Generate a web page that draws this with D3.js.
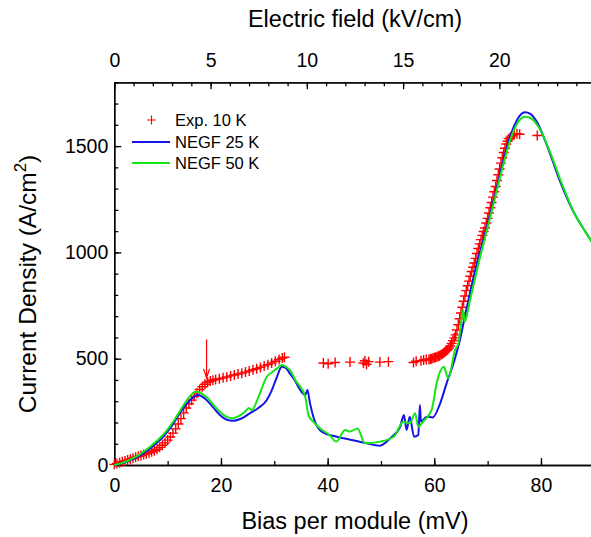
<!DOCTYPE html>
<html>
<head>
<meta charset="utf-8">
<script src="https://cdn.jsdelivr.net/npm/d3@7"></script>
<style>
  body { margin: 0; background: #fff; }
  text { font-family: "Liberation Sans", Arial, sans-serif; fill: #000; }
  .axis path, .axis line { stroke: #000; stroke-width: 1.3; }
</style>
</head>
<body>
<script>
// experimental points, Exp. 10 K
var expBias = [0.0, 0.5, 1.0, 1.5, 2.0, 2.5, 3.0, 3.5, 4.0, 4.5, 5.0, 5.5, 6.0, 6.5, 7.0, 7.5, 8.0, 8.5, 9.0, 9.5,
  10.0, 10.5, 11.0, 11.5, 12.0, 12.5, 13.0, 13.5, 14.0, 14.5, 15.0, 15.5, 16.0, 16.5, 17.0, 17.5, 18.0, 18.5, 19.0,
  19.7, 20.4, 21.1, 21.8, 22.5, 23.2, 23.9, 24.6, 25.3, 26.0, 26.7, 27.4, 28.1, 28.8, 29.5, 30.2, 30.9, 31.5, 31.9,
  39.2, 40.1, 41.4, 44.2, 46.7, 47.0, 47.3, 47.7, 49.8, 51.4, 56.1, 56.6, 57.5, 58.0, 58.5,
  59.0, 59.25, 59.5, 59.75, 60.0, 60.25, 60.5, 60.75, 61.0, 61.25, 61.5, 61.75, 62.0, 62.25, 62.5, 62.75,
  63.0, 63.25, 63.5, 63.75, 64.0, 64.25, 64.5, 64.75, 65.0, 65.25, 65.5, 65.75, 66.0, 66.25, 66.5, 66.75,
  67.0, 67.25, 67.5, 67.75, 68.0, 68.25, 68.5, 68.75, 69.0, 69.25, 69.5, 69.75, 70.0, 70.25, 70.5, 70.75,
  71.0, 71.25, 71.5, 71.75, 72.0, 72.25, 72.5, 72.75, 73.0, 73.25, 73.5, 73.75, 74.0, 74.25, 74.5, 74.75,
  75.0, 75.5, 76.0, 79.3];
var expCurrent = [3, 7, 11, 15, 19, 23, 27, 32, 37, 41, 45, 49, 53, 57, 62, 67, 74, 83, 93, 104,
  117, 132, 150, 170, 193, 218, 245, 268, 288, 305, 322, 338, 355, 368, 380, 389, 395, 399, 402,
  406, 410, 414, 419, 423, 428, 432, 437, 442, 448, 453, 459, 466, 472, 480, 488, 496, 503, 507,
  480, 476, 482, 484, 480, 490, 474, 486, 484, 486, 482, 488, 490, 494, 496,
  496, 498, 500, 503, 505, 507, 509, 511, 514, 518, 522, 527, 532, 537, 542, 550,
  560, 572, 585, 598, 612, 635, 660, 688, 715, 742, 770, 795, 820, 843, 865, 888,
  910, 930, 950, 972, 995, 1018, 1040, 1060, 1080, 1098, 1115, 1138, 1160, 1185, 1210, 1235,
  1260, 1285, 1310, 1338, 1365, 1392, 1420, 1445, 1470, 1490, 1510, 1523, 1535, 1542, 1548, 1552,
  1555, 1558, 1556, 1550];

// NEGF 25 K
var negf25Bias = [0, 2, 4, 5, 6, 7, 8, 9, 10, 11, 12, 13, 14, 15, 15.6, 16.5, 17.3, 18.5, 19.8, 21, 22.3, 23.5,
  25.4, 27, 28.6, 29.5, 30.4, 31.4, 32.2, 32.9, 34, 34.8, 35.8, 36.2, 36.7, 37.6, 38.9, 41.7, 44.5, 47.3, 49.8,
  51.7, 53.6, 54.3, 54.8, 55.4, 56.2, 57.0, 57.3, 57.5, 58.6, 59.7, 61.1, 62.3, 63.6, 64.8, 66, 67.9, 69.8,
  71.4, 72.9, 74.8, 76, 77, 78, 79.2, 81.1, 83.6, 86.1, 88, 90];
var negf25Current = [0, 12, 33, 48, 65, 84, 105, 128, 158, 192, 232, 270, 300, 322, 329, 322, 306, 272, 235, 214, 208, 215,
  243, 268, 306, 350, 408, 462, 455, 431, 392, 355, 329, 353, 290, 205, 157, 133, 118, 102, 91,
  125, 180, 235, 165, 227, 133, 141, 282, 204, 227, 224, 290, 384, 478, 588, 730, 941, 1113,
  1270, 1427, 1584, 1642, 1659, 1652, 1615, 1505, 1333, 1191, 1110, 1035];

// NEGF 50 K
var negf50Bias = [0, 2, 4, 5, 6, 7, 8, 9, 10, 11, 12, 13, 14, 15.3, 16.5, 17.5, 18.5, 19.8, 21, 22.3, 23.5, 24.5,
  25.2, 25.8, 27, 28.6, 29.5, 30.4, 31.4, 32.2, 32.9, 34, 35.8, 36.4, 37.3, 38.6, 40.4, 41.6, 43.3, 44.2, 45.6,
  47, 49.8, 52.4, 54.2, 55.4, 56.4, 57, 57.9, 59.5, 60.5, 61.8, 62.6, 63.9, 64.5, 65.1, 65.4, 65.7, 66.7, 68.9,
  70, 71.4, 72.9, 74.8, 76, 77, 78, 79.5, 81.5, 84, 86.5, 88.5, 90];
var negf50Current = [0, 14, 38, 54, 72, 92, 114, 138, 168, 202, 242, 282, 318, 345, 335, 315, 285, 251, 228, 220, 232, 250,
  268, 258, 318, 415, 435, 452, 470, 462, 447, 398, 321, 235, 204, 172, 140, 110, 165, 157, 172,
  102, 110, 133, 204, 196, 243, 180, 204, 259, 392, 462, 408, 541, 572, 682, 729, 674, 776, 1011,
  1118, 1258, 1410, 1568, 1622, 1638, 1632, 1592, 1485, 1318, 1172, 1090, 1030];

var biasTicks = [0, 20, 40, 60, 80];
var fieldTicks = [0, 5, 10, 15, 20];
var currentTicks = [0, 500, 1000, 1500];
var legendLabels = ["Exp. 10 K", "NEGF 25 K", "NEGF 50 K"];
var moduleLength = 36.1; // nm, mV per kV/cm = moduleLength/10

var width = 591, height = 537;
var margin = {left: 114.3, right: 594.3, top: 82.3, bottom: 465};

var svg = d3.select("body").append("svg")
    .attr("width", width)
    .attr("height", height);

svg.append("rect").attr("width", width).attr("height", height).attr("fill", "#fff");

var x = d3.scaleLinear().domain([0, 90]).range([margin.left, margin.right]);
var xField = d3.scaleLinear().domain([0, 90 / (moduleLength / 10)]).range([margin.left, margin.right]);
var y = d3.scaleLinear().domain([0, 1800]).range([margin.bottom, margin.top]);

// minor ticks first
svg.append("g").attr("class", "axis")
    .attr("transform", "translate(0," + margin.bottom + ")")
    .call(d3.axisBottom(x).tickValues(d3.range(0, 91, 10)).tickSize(-4).tickSizeOuter(0).tickFormat(""));
svg.append("g").attr("class", "axis")
    .attr("transform", "translate(0," + margin.top + ")")
    .call(d3.axisTop(xField).tickValues(d3.range(0, 25, 1)).tickSize(-4).tickSizeOuter(0).tickFormat(""));
svg.append("g").attr("class", "axis")
    .attr("transform", "translate(" + margin.left + ",0)")
    .call(d3.axisLeft(y).tickValues(d3.range(0, 1801, 100)).tickSize(-4).tickSizeOuter(0).tickFormat(""));

svg.append("g").attr("class", "axis")
    .attr("transform", "translate(0," + margin.bottom + ")")
    .call(d3.axisBottom(x).tickValues(biasTicks).tickSize(-7).tickSizeOuter(0).tickPadding(13));
svg.append("g").attr("class", "axis")
    .attr("transform", "translate(0," + margin.top + ")")
    .call(d3.axisTop(xField).tickValues(fieldTicks).tickSize(-7).tickSizeOuter(0).tickPadding(15));
svg.append("g").attr("class", "axis")
    .attr("transform", "translate(" + margin.left + ",0)")
    .call(d3.axisLeft(y).tickValues(currentTicks).tickSize(-7).tickSizeOuter(0).tickPadding(6)
      .tickFormat(d3.format("d")));

svg.selectAll(".axis text")
    .style("font-family", "'Liberation Sans', Arial, sans-serif")
    .style("font-size", "19.5px");

// axis titles
svg.append("text")
    .attr("x", 355).attr("y", 529)
    .attr("text-anchor", "middle")
    .style("font-size", "23.5px")
    .text("Bias per module (mV)");

svg.append("text")
    .attr("x", 355).attr("y", 27)
    .attr("text-anchor", "middle")
    .style("font-size", "23.5px")
    .text("Electric field (kV/cm)");

var yTitle = svg.append("text")
    .attr("transform", "translate(36,284) rotate(-90)")
    .attr("text-anchor", "middle")
    .style("font-size", "24.5px");
yTitle.append("tspan").text("Current Density (A/cm");
yTitle.append("tspan").attr("dy", -10).style("font-size", "17px").text("2");
yTitle.append("tspan").attr("dy", 10).text(")");

// experimental crosses
var plot = svg.append("g");
var cross = 5;
plot.selectAll("path.exp")
    .data(d3.range(expBias.length))
    .enter().append("path")
    .attr("class", "exp")
    .attr("d", function(i) {
      var px = x(expBias[i]), py = y(expCurrent[i]);
      return "M" + (px - cross) + "," + py + "H" + (px + cross) + "M" + px + "," + (py - cross) + "V" + (py + cross);
    })
    .attr("stroke", "#ff0000")
    .attr("stroke-width", 1.4)
    .attr("fill", "none");

var line = d3.line()
    .x(function(d) { return x(d[0]); })
    .y(function(d) { return y(d[1]); })
    .curve(d3.curveMonotoneX);

plot.append("path")
    .attr("d", line(d3.zip(negf25Bias, negf25Current)))
    .attr("fill", "none")
    .attr("stroke", "#1414e6")
    .attr("stroke-width", 2);

plot.append("path")
    .attr("d", line(d3.zip(negf50Bias, negf50Current)))
    .attr("fill", "none")
    .attr("stroke", "#14e614")
    .attr("stroke-width", 2);

// arrow pointing at the kink
var arrowBias = 17.3;
plot.append("path")
    .attr("d", "M" + x(arrowBias) + "," + y(590) + "V" + y(410)
      + "M" + (x(arrowBias) - 3) + "," + (y(410) - 9) + "L" + x(arrowBias) + "," + y(410)
      + "L" + (x(arrowBias) + 3) + "," + (y(410) - 9))
    .attr("stroke", "#ff0000")
    .attr("stroke-width", 1.2)
    .attr("fill", "none");

// legend
var legend = svg.append("g");
legend.append("path")
    .attr("d", "M147,120H156M151.5,115.5V124.5")
    .attr("stroke", "#ff0000").attr("stroke-width", 1.2);
legend.append("line").attr("x1", 132).attr("x2", 170).attr("y1", 142).attr("y2", 142)
    .attr("stroke", "#1414e6").attr("stroke-width", 2);
legend.append("line").attr("x1", 132).attr("x2", 170).attr("y1", 163).attr("y2", 163)
    .attr("stroke", "#14e614").attr("stroke-width", 2);
legend.selectAll("text.leg")
    .data(legendLabels)
    .enter().append("text")
    .attr("class", "leg")
    .attr("x", 175)
    .attr("y", function(d, i) { return 126 + i * 21.5; })
    .style("font-size", "16.5px")
    .text(function(d) { return d; });
</script>
</body>
</html>
